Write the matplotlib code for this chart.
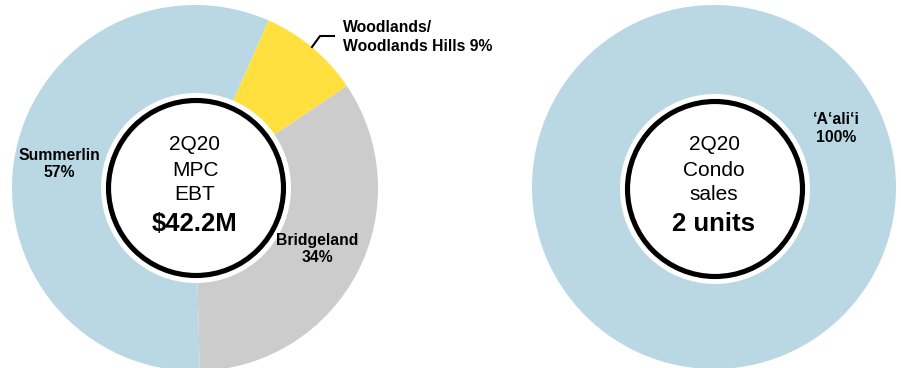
import matplotlib
matplotlib.use("Agg")
import matplotlib.pyplot as plt
from matplotlib.patches import Circle

plt.rcParams['font.family'] = ['Liberation Sans', 'DejaVu Sans']

# MPC EBT split, 2Q20
mpc_names = ["Summerlin", "Woodlands/\nWoodlands Hills", "Bridgeland"]
mpc_share = [57, 9, 34]
mpc_colors = ["#bad8e3", "#ffe03f", "#cccccc"]
mpc_center_lines = ["2Q20", "MPC", "EBT"]
mpc_total = "$42.2M"

# condo sales, 2Q20
condo_names = ["\u2018A\u2018ali\u2018i"]
condo_share = [100]
condo_colors = ["#bad8e3"]
condo_center_lines = ["2Q20", "Condo", "sales"]
condo_total = "2 units"

W, H = 901, 368
fig = plt.figure(figsize=(W / 100, H / 100), dpi=100)
ax = fig.add_axes([0, 0, 1, 1])


def py(y):
    # pixel row (from top) -> data y
    return H - y


def donut(cx, cy, r, shares, colors, ring_c, lines, total):
    ax.pie(shares, colors=colors, radius=r, center=(cx, py(cy)),
           startangle=271.5, counterclock=False, frame=True,
           wedgeprops=dict(linewidth=0))
    rx, ry = ring_c
    ax.add_patch(Circle((rx, py(ry)), 95, fc="white", ec="none", zorder=3))
    ax.add_patch(Circle((rx, py(ry)), 87.5, fc="none", ec="black", lw=3.7, zorder=4))
    for txt, y in zip(lines, [144, 170, 195]):
        ax.text(rx - 1, py(y), txt, ha="center", va="center", fontsize=15, zorder=5)
    ax.text(rx - 1, py(224), total, ha="center", va="center", fontsize=18.5,
            fontweight="bold", zorder=5)


donut(195, 188, 183, mpc_share, mpc_colors, (196, 188), mpc_center_lines, mpc_total)
donut(714, 187, 182, condo_share, condo_colors, (715, 189), condo_center_lines, condo_total)

lab = dict(fontsize=11.3, fontweight="bold", zorder=6)
ax.text(59, py(164), f"{mpc_names[0]}\n{mpc_share[0]}%", ha="center", va="center",
        linespacing=1.2, **lab)
ax.text(343, py(37), f"{mpc_names[1]} {mpc_share[1]}%", ha="left", va="center",
        linespacing=1.3, **lab)
ax.text(317, py(249), f"{mpc_names[2]}\n{mpc_share[2]}%", ha="center", va="center",
        linespacing=1.25, **lab)
ax.text(836, py(128), f"{condo_names[0]}\n{condo_share[0]}%", ha="center", va="center",
        linespacing=1.25, **lab)

# leader line for Woodlands
ax.plot([312, 320, 334], [py(47), py(36), py(36)], color="black", lw=1.5, zorder=6)

ax.set_xlim(0, W)
ax.set_ylim(0, H)
ax.set_aspect("equal")
ax.axis("off")

fig.savefig("out.png", dpi=100)
